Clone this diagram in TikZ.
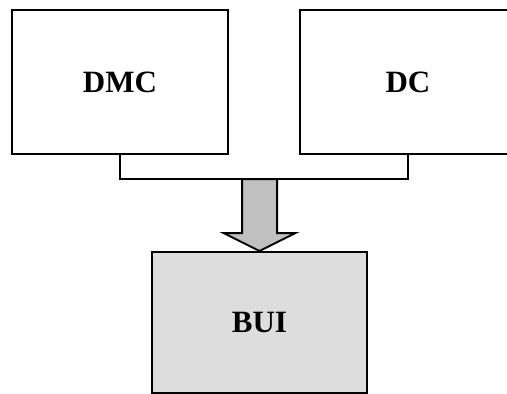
\documentclass[tikz,border=0pt]{standalone}
\usepackage{fontspec}
\setmainfont{Liberation Serif}
\usetikzlibrary{positioning,calc}

\definecolor{arrowgray}{RGB}{192,192,192}
\definecolor{boxgray}{RGB}{221,221,221}

\begin{document}
\begin{tikzpicture}[x=1pt,y=-1pt,
  unit/.style={draw,line width=2pt,minimum width=216pt,minimum height=144pt,
    font=\fontsize{31}{36}\selectfont\bfseries},
  bracket/.style={line width=1.5pt},
  blockarrow/.style={draw,line width=2pt,fill=arrowgray,line join=miter}]
\useasboundingbox (0,0) rectangle (507,394);

% the two source blocks
\node[unit] (dmc) at (120,82) {DMC};
\node[unit,right=70pt of dmc] (dc) {DC};

% the target block
\node[unit,fill=boxgray,minimum width=215pt,minimum height=141pt] (bui) at (259.5,322.5) {BUI};

% join both sources
\coordinate (join) at ($(dmc.south)!0.5!(dc.south)+(0,24)$);
\draw[bracket] (dmc.south) |- (join) -| (dc.south);

% wide arrow down to the target
\coordinate (tail) at (join -| bui.north);
\draw[blockarrow] ($(tail)+(-17.5,0)$) -- ($(bui.north)+(-17.5,-18)$)
  -- ($(bui.north)+(-36,-18)$) -- (bui.north) -- ($(bui.north)+(36,-18)$)
  -- ($(bui.north)+(17.5,-18)$) -- ($(tail)+(17.5,0)$) -- cycle;
\end{tikzpicture}
\end{document}
